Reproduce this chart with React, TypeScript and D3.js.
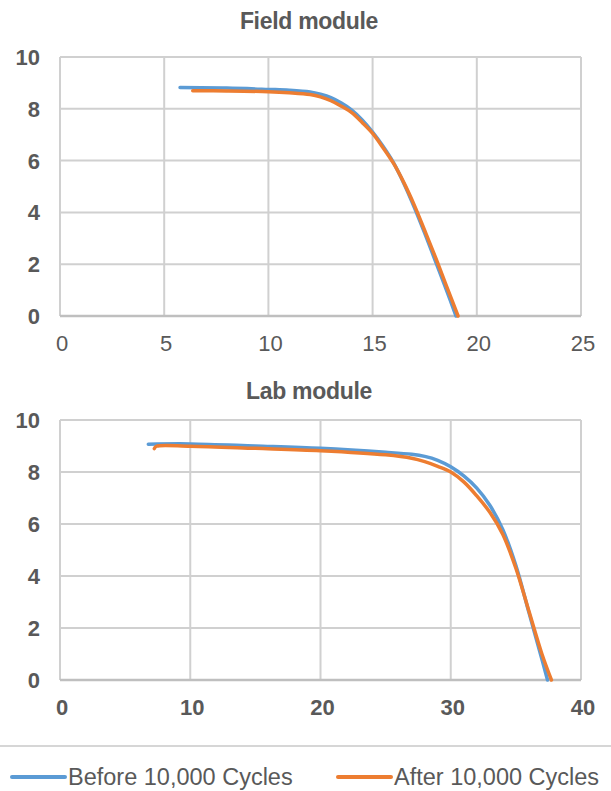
import { useEffect, useRef } from "react";
import * as d3 from "d3";

type Pt = [number, number];

// Field module, I-V style curves (x, y)
const fieldBefore: Pt[] = [
  [5.76, 8.82], [8, 8.8], [10, 8.75], [11, 8.72], [12, 8.65], [12.5, 8.56],
  [13, 8.43], [13.5, 8.22], [14, 7.95], [14.5, 7.57], [15, 7.1], [15.5, 6.55],
  [16, 5.92], [16.5, 5.12], [17, 4.2], [17.5, 3.2], [18, 2.15], [18.5, 1.1], [19.0, 0],
];
const fieldAfter: Pt[] = [
  [6.37, 8.7], [8, 8.69], [10, 8.66], [11, 8.62], [12, 8.55], [12.5, 8.46],
  [13, 8.31], [13.5, 8.1], [14, 7.85], [14.5, 7.47], [15, 7.05], [15.5, 6.5],
  [16, 5.9], [16.5, 5.15], [17, 4.28], [17.5, 3.3], [18, 2.3], [18.5, 1.25], [19.1, 0],
];

// Lab module
const labBefore: Pt[] = [
  [6.78, 9.07], [10, 9.08], [15, 9.0], [20, 8.91], [25, 8.76], [27, 8.68],
  [28, 8.6], [29, 8.45], [30, 8.2], [31, 7.85], [32, 7.38], [33, 6.72],
  [34, 5.78], [35, 4.4], [36, 2.6], [37, 0.8], [37.43, 0],
];
const labAfter: Pt[] = [
  [7.24, 8.9], [7.4, 8.99], [10, 8.99], [15, 8.91], [20, 8.82], [25, 8.66],
  [27, 8.53], [28, 8.4], [29, 8.22], [30, 8.0], [31, 7.62], [32, 7.08],
  [33, 6.45], [34, 5.6], [35, 4.3], [36, 2.65], [37, 1.0], [37.73, 0],
];

const fieldXTicks = [0, 5, 10, 15, 20, 25];
const labXTicks = [0, 10, 20, 30, 40];
const yTicks = [0, 2, 4, 6, 8, 10];

const seriesNames = ["Before 10,000 Cycles", "After 10,000 Cycles"];
const colors = ["#5B9BD5", "#ED7D31"];

const W = 611;
const H = 791;
const TEXT = "#595959";
const GRID = "#D0D0D0";
const FONT = "'Liberation Sans', Arial, sans-serif";

export default function App() {
  const svgRef = useRef<SVGSVGElement>(null);

  useEffect(() => {
    if (!svgRef.current) return;
    const svg = d3.select(svgRef.current);
    svg.selectAll("*").remove();

    function panel(
      title: string,
      titleY: number,
      top: number,
      bottom: number,
      xMax: number,
      xTicks: number[],
      xBold: boolean,
      series: Pt[][]
    ) {
      const x = d3.scaleLinear().domain([0, xMax]).range([60, 581]);
      const y = d3.scaleLinear().domain([0, 10]).range([bottom, top]);
      const g = svg.append("g");

      g.append("text")
        .attr("x", 309)
        .attr("y", titleY)
        .attr("text-anchor", "middle")
        .attr("font-family", FONT)
        .attr("font-size", 23)
        .attr("font-weight", "bold")
        .attr("letter-spacing", "-0.3")
        .attr("fill", TEXT)
        .text(title);

      // grid
      g.selectAll(".hg")
        .data(yTicks.filter((t) => t > 0))
        .enter()
        .append("line")
        .attr("x1", x(0))
        .attr("x2", x(xMax))
        .attr("y1", (d) => y(d))
        .attr("y2", (d) => y(d))
        .attr("stroke", GRID)
        .attr("stroke-width", 2);
      g.selectAll(".vg")
        .data(xTicks)
        .enter()
        .append("line")
        .attr("x1", (d) => x(d))
        .attr("x2", (d) => x(d))
        .attr("y1", y(10))
        .attr("y2", y(0))
        .attr("stroke", GRID)
        .attr("stroke-width", 2);
      // x axis line
      g.append("line")
        .attr("x1", x(0))
        .attr("x2", x(xMax))
        .attr("y1", y(0))
        .attr("y2", y(0))
        .attr("stroke", "#BFBFBF")
        .attr("stroke-width", 2.5);

      // y tick labels
      g.selectAll(".yl")
        .data(yTicks)
        .enter()
        .append("text")
        .attr("x", 40)
        .attr("y", (d) => y(d))
        .attr("dy", "0.36em")
        .attr("text-anchor", "end")
        .attr("font-family", FONT)
        .attr("font-size", 22)
        .attr("font-weight", "bold")
        .attr("fill", TEXT)
        .text((d) => d);

      // x tick labels
      g.selectAll(".xl")
        .data(xTicks)
        .enter()
        .append("text")
        .attr("x", (d) => x(d) + 2)
        .attr("y", y(0) + 27)
        .attr("dy", "0.36em")
        .attr("text-anchor", "middle")
        .attr("font-family", FONT)
        .attr("font-size", 22)
        .attr("font-weight", xBold ? "bold" : "normal")
        .attr("fill", TEXT)
        .text((d) => d);

      const line = d3
        .line<Pt>()
        .x((d) => x(d[0]))
        .y((d) => y(d[1]))
        .curve(d3.curveCatmullRom.alpha(0.5));

      series.forEach((s, i) => {
        g.append("path")
          .attr("d", line(s) || "")
          .attr("fill", "none")
          .attr("stroke", colors[i])
          .attr("stroke-width", 3.5)
          .attr("stroke-linecap", "round");
      });
    }

    panel("Field module", 29, 57, 316, 25, fieldXTicks, false, [fieldBefore, fieldAfter]);
    panel("Lab module", 399, 420, 680, 40, labXTicks, true, [labBefore, labAfter]);

    // legend
    svg.append("line")
      .attr("x1", 0)
      .attr("x2", W)
      .attr("y1", 746)
      .attr("y2", 746)
      .attr("stroke", "#C8C8C8")
      .attr("stroke-width", 1.5);

    const legendX = [12, 338];
    seriesNames.forEach((name, i) => {
      const lg = svg.append("g").attr("transform", `translate(${legendX[i]},777)`);
      lg.append("line")
        .attr("x1", 0)
        .attr("x2", 53)
        .attr("y1", 0)
        .attr("y2", 0)
        .attr("stroke", colors[i])
        .attr("stroke-width", 4)
        .attr("stroke-linecap", "round");
      lg.append("text")
        .attr("x", 56)
        .attr("y", 0)
        .attr("dy", "0.36em")
        .attr("font-family", FONT)
        .attr("font-size", 23.5)
        .attr("fill", TEXT)
        .text(name);
    });
  }, []);

  return (
    <svg
      ref={svgRef}
      width={W}
      height={H}
      style={{ position: "absolute", left: 0, top: 0, background: "#fff" }}
    />
  );
}
